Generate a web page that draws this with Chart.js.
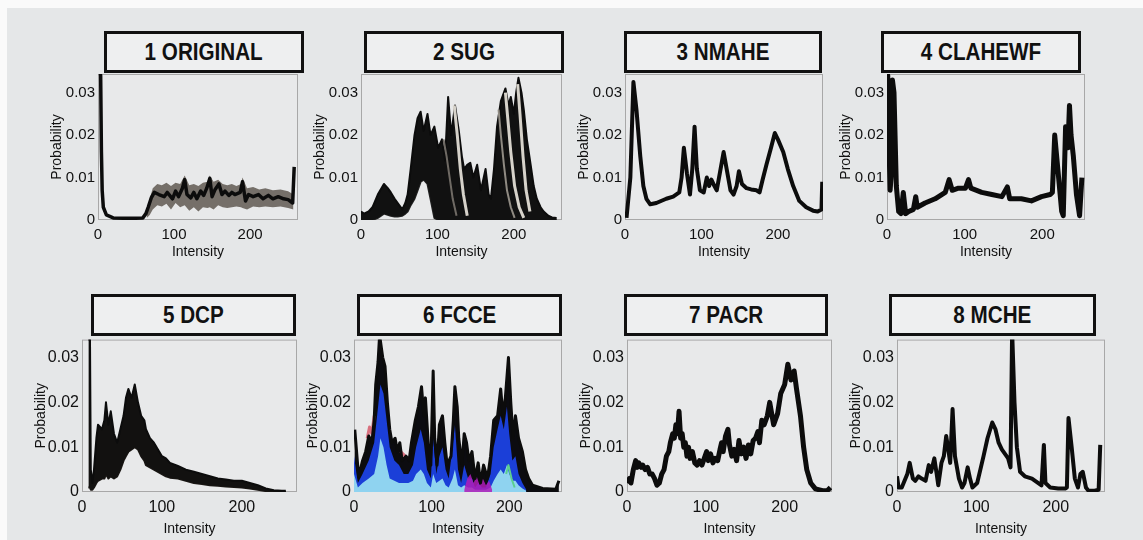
<!DOCTYPE html>
<html>
<head>
<meta charset="utf-8">
<script src="https://cdn.jsdelivr.net/npm/chart.js@4"></script>
<style>
  html, body { margin: 0; padding: 0; background: #fafafa; overflow: hidden; }
  #bg { position: absolute; left: 7px; top: 8px; width: 1136px; height: 532px; background: #e5e7e8; }
  canvas { position: absolute; }
  .tbox {
    position: absolute; box-sizing: border-box; border: 3px solid #111;
    background: #eeeff0; display: flex; align-items: center; justify-content: center;
    font-family: 'Liberation Sans', Arial, sans-serif; font-weight: bold; font-size: 24px; color: #111;
  }
  .tbox span { display: inline-block; transform: scaleX(0.86); white-space: nowrap; }
</style>
</head>
<body>
<div id="bg"></div>
<script>
// axis ticks shared by all panels
var xTicks = [0, 100, 200];
var yTicks = [0, 0.01, 0.02, 0.03];

// 1 ORIGINAL - mean line plus grey spread
var p1X = [2,3.5,4.5,5.5,7,11,20,35,48,59,63,66,70,74,80,87,91,98,102,106,111,114,117,122,126,130,135,139,143,147,150,154,159,163,167,172,176,180,187,190,194,198,204,211,217,224,230,237,244,250,256,258];
var p1Y = [0.036,0.034,0.016,0.007,0.003,0.0012,0.0005,0.0004,0.0004,0.0005,0.0015,0.003,0.0052,0.0065,0.006,0.0055,0.0065,0.005,0.0068,0.0055,0.0075,0.0095,0.006,0.0052,0.0065,0.005,0.0068,0.0058,0.0075,0.0098,0.0055,0.0072,0.0085,0.006,0.0068,0.0058,0.0065,0.006,0.0065,0.009,0.0045,0.006,0.0055,0.006,0.005,0.0058,0.005,0.0055,0.005,0.0048,0.004,0.0125];
var b1X = [64,68,72,78,84,90,96,102,108,114,120,126,132,138,144,147,152,158,164,170,176,182,188,190,196,204,212,220,230,240,250,257];
var b1Hi = [0.002,0.005,0.0075,0.0085,0.0082,0.0088,0.008,0.0088,0.0085,0.0105,0.0082,0.0085,0.008,0.0088,0.009,0.0105,0.009,0.0095,0.0085,0.0082,0.0085,0.008,0.0085,0.01,0.0075,0.0078,0.0072,0.0075,0.007,0.0072,0.0068,0.006];
var b1Lo = [0.0005,0.0012,0.0025,0.0035,0.0032,0.0038,0.0025,0.004,0.003,0.0035,0.0022,0.003,0.002,0.003,0.0028,0.003,0.0025,0.0035,0.003,0.0028,0.003,0.0032,0.003,0.0028,0.0025,0.0032,0.003,0.0032,0.003,0.0032,0.0028,0.0025];

// 2 SUG - envelope of many curves and light streaks
var p2X = [0,4,10,15,22,30,35,39,44,48,54,58,61,65,70,74,78,82,87,91,96,101,106,110,114,118,123,128,132,135,139,143,147,152,157,163,167,170,174,178,183,189,193,196,200,203,206,210,213,217,222,226,230,235,239,245,250,256];
var p2Hi = [0.002,0.0015,0.002,0.003,0.006,0.0085,0.0075,0.0065,0.005,0.004,0.0025,0.004,0.006,0.012,0.02,0.024,0.0255,0.021,0.025,0.02,0.022,0.017,0.019,0.014,0.029,0.02,0.027,0.021,0.015,0.012,0.013,0.0135,0.01,0.013,0.007,0.012,0.006,0.005,0.012,0.022,0.028,0.031,0.027,0.029,0.025,0.03,0.0335,0.03,0.026,0.019,0.013,0.008,0.005,0.003,0.002,0.001,0.0006,0.0005];
var p2Lo = [0,0,0,0,0.0005,0.0015,0.0012,0.001,0.0008,0.0008,0.001,0.0015,0.002,0.0035,0.005,0.007,0.009,0.0095,0.0085,0.005,0.0005,0,0,0,0,0,0,0,0,0,0,0,0,0,0,0,0,0,0,0,0,0,0,0,0,0,0,0,0,0,0,0,0,0,0,0,0,0];
var s2aX = [122,126,130,134,139];
var s2aY = [0.027,0.02,0.012,0.006,0.001];
var s2bX = [189,192,196,201,207,213];
var s2bY = [0.03,0.024,0.016,0.008,0.003,0.0005];
var s2cX = [205,208,212,216,221];
var s2cY = [0.032,0.025,0.015,0.007,0.002];
var s2dX = [180,183,187,191,196,201];
var s2dY = [0.026,0.02,0.013,0.007,0.003,0.0005];
var s2eX = [108,112,116,120,125];
var s2eY = [0.019,0.015,0.01,0.005,0.001];

// 3 NMAHE
var p3X = [2,7,11,15,20,24,28,33,41,54,63,71,74,77,81,85,88,91,94,98,103,107,110,113,117,120,124,129,133,138,142,146,149,153,159,165,172,176,180,185,191,196,200,207,213,220,228,237,246,252,257,258];
var p3Y = [0.0005,0.01,0.0325,0.026,0.015,0.008,0.005,0.0037,0.004,0.005,0.0055,0.0065,0.01,0.017,0.011,0.006,0.012,0.022,0.012,0.007,0.0065,0.01,0.008,0.0095,0.008,0.007,0.011,0.016,0.012,0.007,0.006,0.008,0.0115,0.0085,0.0075,0.0072,0.007,0.0065,0.0095,0.013,0.017,0.0205,0.019,0.016,0.012,0.008,0.0045,0.003,0.0022,0.002,0.0025,0.009];

// 4 CLAHEWF
var p4X = [0,1,3,4,6,7,9,12,15,18,21,24,28,34,37,39,49,62,75,80,84,92,101,105,108,122,135,148,155,158,173,186,199,210,213,216,221,225,227,230,233,235,237,240,244,248,251];
var p4Y = [0.034,0.015,0.0145,0.007,0.012,0.033,0.03,0.008,0.002,0.0015,0.0065,0.0015,0.002,0.0025,0.0055,0.003,0.004,0.005,0.0065,0.0095,0.007,0.0075,0.0075,0.0095,0.0075,0.0065,0.006,0.0055,0.0078,0.005,0.005,0.0045,0.0055,0.006,0.0065,0.02,0.01,0.002,0.001,0.022,0.017,0.027,0.02,0.015,0.006,0.001,0.01];

// 5 DCP - dense band, upper and lower edge
var p5X = [8,10,11,13,15,18,20,25,28,30,33,36,40,44,48,52,55,58,62,66,70,74,78,80,85,90,95,100,105,110,120,130,140,150,160,170,180,190,200,210,220,230,240,250,255];
var p5Hi = [0.034,0.034,0.005,0.002,0.005,0.012,0.015,0.014,0.016,0.02,0.015,0.018,0.013,0.011,0.014,0.017,0.021,0.023,0.021,0.024,0.02,0.017,0.016,0.014,0.012,0.011,0.0095,0.008,0.0075,0.0065,0.0058,0.005,0.0045,0.004,0.0035,0.003,0.0028,0.0025,0.0025,0.002,0.0015,0.0008,0.0004,0.0003,0.0003];
var p5Lo = [0.001,0.001,0.0005,0.0005,0.001,0.002,0.0025,0.003,0.003,0.004,0.003,0.0035,0.003,0.0035,0.005,0.007,0.008,0.009,0.0095,0.01,0.0095,0.008,0.007,0.006,0.0055,0.005,0.0045,0.004,0.0035,0.0032,0.003,0.0025,0.002,0.0018,0.0015,0.0014,0.0012,0.0011,0.001,0.0008,0.0005,0.0002,0.0001,0,0];

// 6 FCCE - black top curve over coloured channels
var p6X = [1,6,11,15,19,23,26,28,31,33,37,40,43,46,49,53,56,59,62,67,71,74,79,83,87,90,92,96,99,102,104,107,110,114,117,120,125,128,130,133,135,139,142,145,148,152,156,160,163,167,172,176,180,185,189,192,195,199,202,205,208,212,217,221,225,230,243,260,264];
var p6Y = [0.0139,0.0033,0.007,0.009,0.0125,0.011,0.016,0.024,0.029,0.035,0.03,0.028,0.02,0.014,0.011,0.012,0.009,0.011,0.007,0.008,0.007,0.011,0.016,0.019,0.0235,0.017,0.021,0.01,0.006,0.027,0.012,0.006,0.015,0.017,0.011,0.006,0.008,0.016,0.0235,0.019,0.012,0.006,0.013,0.011,0.007,0.009,0.003,0.0065,0.002,0.006,0.003,0.008,0.016,0.017,0.023,0.017,0.021,0.03,0.02,0.012,0.017,0.012,0.009,0.005,0.003,0.0015,0.0008,0.0006,0.0025];
var c6X = [0,5,11,19,26,31,34,38,42,46,52,58,64,70,76,80,86,90,94,99,102,106,110,114,118,122,127,130,134,138,142,147,152,156,160,165,170,176,180,185,189,193,197,200,204,208,212,217,222];
var blue6 = [0.008,0.002,0.004,0.007,0.011,0.019,0.024,0.022,0.016,0.01,0.007,0.006,0.004,0.004,0.006,0.01,0.014,0.011,0.005,0.003,0.012,0.004,0.008,0.01,0.005,0.003,0.01,0.015,0.005,0.002,0.006,0.003,0.003,0.001,0.002,0.001,0.001,0.004,0.01,0.014,0.017,0.014,0.019,0.013,0.007,0.008,0.004,0.002,0.0005];
var cyan6 = [0.004,0.001,0.002,0.003,0.004,0.008,0.012,0.01,0.006,0.003,0.0025,0.002,0.002,0.002,0.0025,0.004,0.005,0.004,0.002,0.001,0.004,0.002,0.0025,0.003,0.0015,0.001,0.003,0.005,0.0015,0.001,0.0015,0.001,0.001,0.0005,0.0005,0.0005,0.0005,0.001,0.0025,0.004,0.005,0.004,0.006,0.004,0.0025,0.0025,0.0015,0.0008,0.0003];
var mag6X = [142,146,150,154,158,162,166,170,174,178];
var mag6 = [0.0005,0.003,0.004,0.002,0.0035,0.0015,0.003,0.0015,0.0025,0.0005];
var pink6X = [17,20,23,26,57,60,63,66];
var pink6 = [0.012,0.0145,0.013,0.017,null,0.009,0.0085,0.008];
var green6X = [196,199,203,207];
var green6 = [0.004,0.006,0.003,0.001];

// 7 PACR
var p7X = [0,3,5,8,11,13,15,18,20,23,26,29,32,35,38,41,44,47,50,53,55,58,60,62,64,66,68,70,72,74,76,78,80,83,86,89,92,95,98,101,103,106,109,112,115,118,120,122,125,128,130,133,136,139,142,145,148,151,154,157,160,163,166,168,171,174,178,181,186,191,195,200,204,208,212,215,220,224,228,233,239,248,254,258];
var p7Y = [0.002,0.003,0.002,0.005,0.007,0.0055,0.0065,0.0055,0.006,0.005,0.0055,0.004,0.004,0.003,0.0015,0.002,0.004,0.005,0.008,0.009,0.011,0.013,0.012,0.015,0.013,0.018,0.012,0.013,0.01,0.011,0.008,0.01,0.0075,0.009,0.0065,0.006,0.007,0.006,0.0075,0.009,0.007,0.0085,0.0065,0.0075,0.007,0.0095,0.011,0.009,0.0125,0.014,0.0105,0.008,0.0095,0.007,0.0115,0.0085,0.01,0.0075,0.0105,0.0085,0.0115,0.012,0.0135,0.011,0.016,0.015,0.017,0.02,0.015,0.0175,0.022,0.024,0.0285,0.025,0.027,0.023,0.017,0.01,0.005,0.002,0.0007,0.0003,0.0003,0.001];

// 8 MCHE
var p8X = [0,2,6,13,16,20,23,27,31,36,40,43,47,50,52,56,59,62,65,67,70,73,78,82,85,89,92,95,101,105,109,114,120,124,128,132,136,140,143,145,148,151,155,161,170,178,182,185,187,193,203,212,214,216,220,224,228,231,234,238,241,249,254,256];
var p8Y = [0.0035,0.001,0.001,0.004,0.0065,0.003,0.0025,0.0035,0.003,0.0025,0.006,0.0045,0.0075,0.004,0.0015,0.0065,0.008,0.0125,0.009,0.0065,0.0185,0.008,0.003,0.001,0.002,0.0055,0.003,0.001,0.002,0.005,0.008,0.012,0.0155,0.014,0.011,0.0095,0.0085,0.0075,0.0055,0.036,0.02,0.01,0.0045,0.0035,0.003,0.002,0.0015,0.0105,0.002,0.001,0.0008,0.0008,0.001,0.0165,0.01,0.003,0.001,0.004,0.0045,0.001,0.0003,0.0003,0.0005,0.0105];

Chart.defaults.animation = false;
Chart.defaults.font.family = "'Liberation Sans', Arial, sans-serif";

function line(xs, ys, color, width, extra) {
  var ds = {
    data: xs.map(function (x, i) { return { x: x, y: ys[i] }; }),
    borderColor: color,
    borderWidth: width,
    pointRadius: 0,
    tension: 0,
    fill: false,
    borderJoinStyle: 'round',
    spanGaps: false
  };
  return Object.assign(ds, extra || {});
}

var INK = '#0c0c0c';
var NONE = 'rgba(0,0,0,0)';
var STREAK = '#d6d2ca';

var panels = [
  { title: '1 ORIGINAL', plot: [98, 72, 298, 220], box: [104, 31, 304, 73], xMax: 263, yMax: 0.0344, row: 1,
    sets: [
      line(p1X, p1Y, INK, 3.5),
      line(b1X, b1Hi, NONE, 0, { fill: '+1', backgroundColor: 'rgba(88,80,72,0.8)' }),
      line(b1X, b1Lo, NONE, 0)
    ] },
  { title: '2 SUG', plot: [361, 72, 562, 220], box: [364, 31, 564, 73], xMax: 263, yMax: 0.0344, row: 1,
    sets: [
      line(s2aX, s2aY, STREAK, 3),
      line(s2bX, s2bY, STREAK, 3),
      line(s2cX, s2cY, STREAK, 3),
      line(s2dX, s2dY, '#8f8a82', 2),
      line(s2eX, s2eY, '#6f6a64', 2),
      line(p2X, p2Hi, INK, 2, { fill: '+1', backgroundColor: '#111' }),
      line(p2X, p2Lo, '#222', 2)
    ] },
  { title: '3 NMAHE', plot: [625, 72, 823, 220], box: [624, 31, 822, 73], xMax: 259, yMax: 0.0344, row: 1,
    sets: [line(p3X, p3Y, INK, 4)] },
  { title: '4 CLAHEWF', plot: [887, 72, 1085, 220], box: [881, 31, 1081, 73], xMax: 255, yMax: 0.0344, row: 1,
    sets: [line(p4X, p4Y, INK, 5)] },
  { title: '5 DCP', plot: [82, 337, 297, 492], box: [91, 294, 296, 336], xMax: 269, yMax: 0.034, row: 2,
    sets: [
      line(p5X, p5Hi, INK, 2, { fill: '+1', backgroundColor: '#121110' }),
      line(p5X, p5Lo, '#1a1714', 2)
    ] },
  { title: '6 FCCE', plot: [354, 337, 562, 492], box: [357, 294, 562, 336], xMax: 268, yMax: 0.034, row: 2,
    sets: [
      line(p6X, p6Y, INK, 3),
      line(pink6X, pink6, '#d8707e', 3),
      line(green6X, green6, '#5ccf8f', 2),
      line(mag6X, mag6, NONE, 0, { fill: 'origin', backgroundColor: 'rgba(176,28,184,0.85)' }),
      line(c6X, cyan6, NONE, 0, { fill: 'origin', backgroundColor: '#8fd3f0' }),
      line(c6X, blue6, NONE, 0, { fill: 'origin', backgroundColor: '#1b3fd8' }),
      line(p6X, p6Y, NONE, 0, { fill: 'origin', backgroundColor: '#0c0c10' })
    ] },
  { title: '7 PACR', plot: [627, 337, 832, 492], box: [624, 294, 828, 336], xMax: 260, yMax: 0.034, row: 2,
    sets: [line(p7X, p7Y, INK, 5)] },
  { title: '8 MCHE', plot: [897, 337, 1105, 492], box: [889, 294, 1096, 336], xMax: 262, yMax: 0.034, row: 2,
    sets: [line(p8X, p8Y, INK, 4)] }
];

var PAD_L = 62, PAD_T = 10, PAD_R = 8, PAD_B = 50;

var framePlugin = {
  id: 'frame',
  beforeDraw: function (chart) {
    var a = chart.chartArea, c = chart.ctx;
    c.save();
    c.fillStyle = '#e8e9ea';
    c.fillRect(a.left, a.top, a.right - a.left, a.bottom - a.top);
    c.restore();
  },
  beforeDatasetsDraw: function (chart) {
    var a = chart.chartArea, c = chart.ctx;
    c.save();
    c.strokeStyle = '#a8a8a8';
    c.lineWidth = 1;
    c.strokeRect(a.left + 0.5, a.top + 0.5, a.right - a.left - 1, a.bottom - a.top - 1);
    c.restore();
  }
};

panels.forEach(function (p) {
  var w = p.plot[2] - p.plot[0];
  var h = p.plot[3] - p.plot[1];
  var cv = document.createElement('canvas');
  cv.width = w + PAD_L + PAD_R;
  cv.height = h + PAD_T + PAD_B;
  cv.style.left = (p.plot[0] - PAD_L) + 'px';
  cv.style.top = (p.plot[1] - PAD_T) + 'px';
  document.body.appendChild(cv);

  var box = document.createElement('div');
  box.className = 'tbox';
  box.style.left = p.box[0] + 'px';
  box.style.top = p.box[1] + 'px';
  box.style.width = (p.box[2] - p.box[0]) + 'px';
  box.style.height = (p.box[3] - p.box[1]) + 'px';
  box.innerHTML = '<span>' + p.title + '</span>';
  document.body.appendChild(box);

  var fs = p.row === 1 ? 15 : 16;
  var txt = '#111';

  new Chart(cv, {
    type: 'line',
    data: { datasets: p.sets },
    plugins: [framePlugin],
    options: {
      responsive: false,
      layout: { padding: { top: PAD_T, right: PAD_R, left: 0, bottom: 0 } },
      plugins: { legend: { display: false }, tooltip: { enabled: false } },
      scales: {
        x: {
          type: 'linear', min: 0, max: p.xMax,
          afterBuildTicks: function (s) { s.ticks = xTicks.map(function (v) { return { value: v }; }); },
          afterFit: function (s) { s.height = PAD_B; },
          grid: { display: false, drawTicks: false },
          border: { display: false },
          ticks: { padding: 6, maxRotation: 0, color: txt, font: { size: fs }, callback: function (v) { return String(v); } },
          title: { display: true, text: 'Intensity', color: txt, font: { size: 14 },
                   padding: { top: 0, bottom: p.row === 1 ? 9 : 4 } }
        },
        y: {
          type: 'linear', min: 0, max: p.yMax,
          afterBuildTicks: function (s) { s.ticks = yTicks.map(function (v) { return { value: v }; }); },
          afterFit: function (s) { s.width = PAD_L; },
          grid: { display: false, drawTicks: false },
          border: { display: false },
          ticks: { padding: 3, color: txt, font: { size: fs },
                   callback: function (v) { return v === 0 ? '0' : v.toFixed(2); } },
          title: { display: true, text: 'Probability', color: txt, font: { size: 14 },
                   padding: { top: 13, bottom: 0 } }
        }
      }
    }
  });
});
</script>
</body>
</html>
